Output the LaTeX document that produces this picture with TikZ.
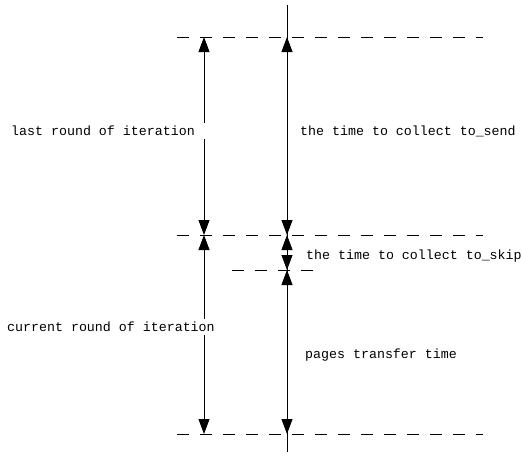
\documentclass[tikz,border=0pt]{standalone}
\usepackage{fontspec}
\setmonofont{Liberation Mono}
\usetikzlibrary{arrows.meta}

\tikzset{
  mark line/.style={draw, line width=0.8pt, dash pattern=on 12pt off 11pt},
  span/.style={draw, line width=0.8pt,
    {Triangle[length=15pt,width=11pt]}-{Triangle[length=15pt,width=11pt]}},
  lbl/.style={font=\ttfamily\fontsize{13.3}{15}\selectfont, anchor=west,
    inner sep=1pt},
  gap lbl/.style={lbl, fill=white, inner xsep=12pt, inner ysep=3pt},
}

\begin{document}
\begin{tikzpicture}[x=1pt,y=-1pt]
        \useasboundingbox (0,0) rectangle (522,456);

        % time axis
        \coordinate (axtop) at (287,5);
        \coordinate (axbot) at (287,452);
        \path[draw,line width=0.8pt] (axtop) -- (axbot);

        % round boundaries
        \coordinate (s1) at (177,37);  \coordinate (e1) at (483,37);
        \coordinate (s2) at (177,235); \coordinate (e2) at (483,235);
        \coordinate (s3) at (232,270); \coordinate (e3) at (320,270);
        \coordinate (s4) at (177,434); \coordinate (e4) at (483,434);
        \path[mark line] (s1) -- (e1);
        \path[mark line] (s2) -- (e2);
        \path[mark line] (s3) -- (e3);
        \path[mark line] (s4) -- (e4);

        % left spans
        \coordinate (l1) at (204,37);
        \coordinate (l2) at (204,235);
        \coordinate (l3) at (204,434);
        \path[span] (l1) -- (l2);
        \path[span] (l2) -- (l3);

        % right spans
        \coordinate (r1) at (287,37);
        \coordinate (r2) at (287,235);
        \coordinate (r3) at (287,270);
        \coordinate (r4) at (287,434);
        \path[span] (r1) -- (r2);
        \path[span] (r2) -- (r3);
        \path[span] (r3) -- (r4);

        % labels, the left ones cut the span line
        \node[gap lbl] (last) at (-1,131) {last round of iteration};
        \node[gap lbl] (cur) at (-5,327) {current round of iteration};
        \node[lbl] (send) at (299,131) {the time to collect to\_send};
        \node[lbl] (skip) at (305,256) {the time to collect to\_skip};
        \node[lbl] (pages) at (304,355) {pages transfer time};
\end{tikzpicture}
\end{document}
